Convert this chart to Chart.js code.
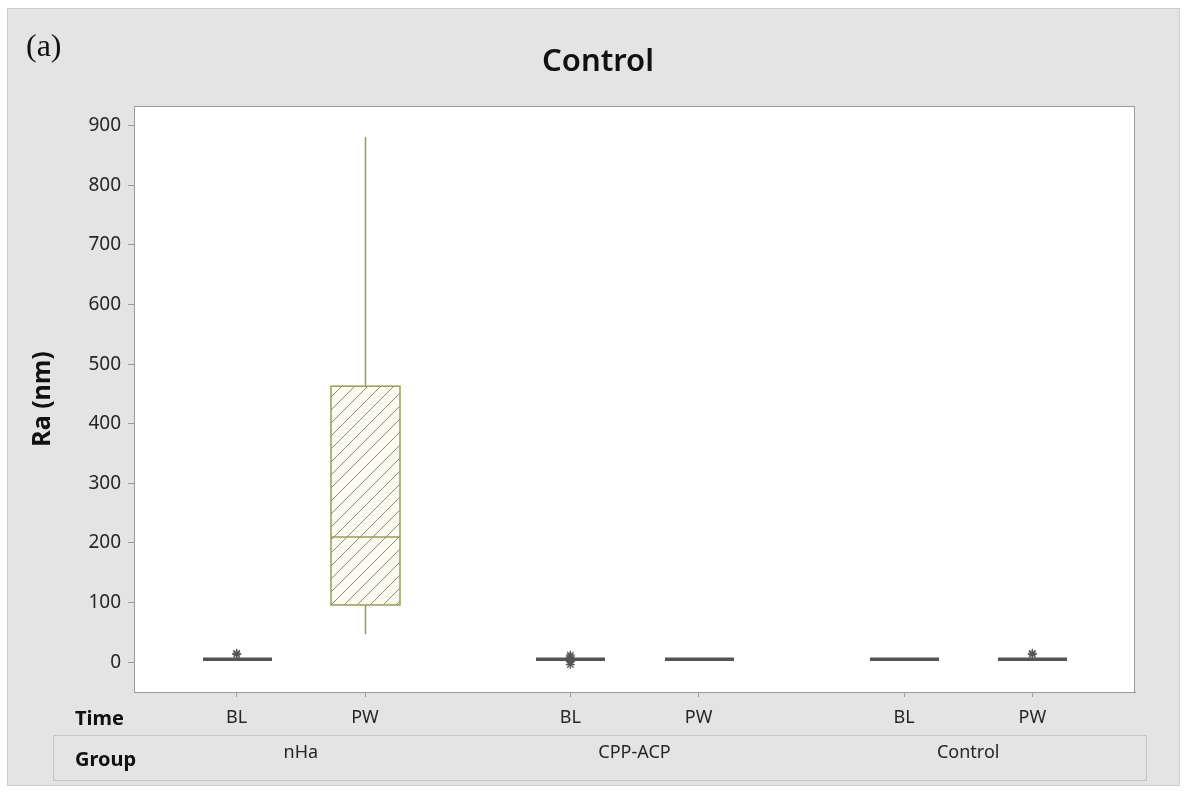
<!DOCTYPE html>
<html>
<head>
<meta charset="utf-8">
<script src="https://cdn.jsdelivr.net/npm/chart.js@4.4.1/dist/chart.umd.min.js"></script>
<style>
  html, body { margin: 0; padding: 0; background: #fff; }
  #wrap { width: 1186px; height: 794px; }
</style>
</head>
<body>
<div id="wrap"><canvas id="boxChart" width="1186" height="794"></canvas></div>
<script>
const groups = ['nHa', 'CPP-ACP', 'Control'];
const times = ['BL', 'PW'];

// one entry per box: nHa BL, nHa PW, CPP-ACP BL, CPP-ACP PW, Control BL, Control PW
const whiskerLow = [3, 47, 2, 3, 3, 3];
const q1 = [4, 96, 4, 4, 4, 4];
const median = [5, 210, 5, 5, 5, 5];
const q3 = [6, 463, 6, 6, 6, 6];
const whiskerHigh = [8, 881, 8, 7, 7, 8];
const outliers = [[13, 15], [], [12, 9, 4, 1, -4], [], [], [13, 15]];

const yTickValues = [0, 100, 200, 300, 400, 500, 600, 700, 800, 900];

const FONT = "'Noto Sans', 'DejaVu Sans', sans-serif";
const boxColors = ['#555555', '#9b9a55', '#555555', '#555555', '#555555', '#555555'];

// x position of each box on the linear axis (groups spaced wider than times)
const xPos = [];
groups.forEach((g, gi) => times.forEach((t, ti) => xPos.push(1 + gi * 2.6 + ti)));

const outlierPoints = [];
outliers.forEach((list, i) => list.forEach(v => outlierPoints.push({ x: xPos[i], y: v })));

// hatch pattern for the filled box
function makeHatch() {
  const c = document.createElement('canvas');
  c.width = 13; c.height = 13;
  const cx = c.getContext('2d');
  cx.fillStyle = '#fbfbf1';
  cx.fillRect(0, 0, 13, 13);
  cx.strokeStyle = '#8d8c6c';
  cx.lineWidth = 1;
  cx.beginPath();
  cx.moveTo(-1, 14); cx.lineTo(14, -1);
  cx.moveTo(-1, 1); cx.lineTo(1, -1);
  cx.moveTo(12, 14); cx.lineTo(14, 12);
  cx.stroke();
  return cx.createPattern(c, 'repeat');
}

const backdrop = {
  id: 'backdrop',
  beforeDraw(chart) {
    const { ctx, chartArea: a } = chart;
    ctx.save();
    ctx.fillStyle = '#ffffff';
    ctx.fillRect(0, 0, chart.width, chart.height);
    ctx.fillStyle = '#e4e4e4';
    ctx.fillRect(7, 8, 1173, 778);
    ctx.strokeStyle = '#cdcdcd';
    ctx.lineWidth = 1;
    ctx.strokeRect(7.5, 8.5, 1172, 777);
    ctx.fillStyle = '#ffffff';
    ctx.fillRect(a.left, a.top, a.right - a.left, a.bottom - a.top);
    ctx.restore();
  },
  afterDraw(chart) {
    const { ctx, chartArea: a, scales: { x } } = chart;
    ctx.save();
    ctx.strokeStyle = '#9c9c9c';
    ctx.lineWidth = 1;
    ctx.strokeRect(a.left + 0.5, a.top + 0.5, a.right - a.left - 1, a.bottom - a.top);

    // group box under the time labels
    ctx.strokeStyle = '#c4c4c4';
    ctx.strokeRect(53.5, 735.5, 1093, 45);

    ctx.fillStyle = '#111';
    ctx.textBaseline = 'middle';
    ctx.textAlign = 'left';
    ctx.font = 'bold 20px ' + FONT;
    ctx.fillText('Time', 75, 719);
    ctx.fillText('Group', 75, 760);

    ctx.font = '18px ' + FONT;
    ctx.fillStyle = '#262626';
    ctx.textAlign = 'center';
    groups.forEach((g, gi) => {
      const cx = (x.getPixelForValue(xPos[gi * 2]) + x.getPixelForValue(xPos[gi * 2 + 1])) / 2;
      ctx.fillText(g, cx, 753);
    });

    ctx.fillStyle = '#111';
    ctx.font = '600 31px ' + FONT;
    ctx.fillText('Control', 598, 62);

    ctx.textAlign = 'left';
    ctx.font = '32px "Liberation Serif", serif';
    ctx.fillText('(a)', 26, 48);
    ctx.restore();
  }
};

const hatch = makeHatch();

const boxes = {
  id: 'boxes',
  beforeDatasetsDraw(chart) {
    const { ctx, scales: { x, y } } = chart;
    const halfW = 34.5;
    ctx.save();
    xPos.forEach((xv, i) => {
      const px = Math.round(x.getPixelForValue(xv)) + 0.5;
      const col = boxColors[i];
      const yTop = y.getPixelForValue(q3[i]);
      const yBot = y.getPixelForValue(q1[i]);
      ctx.strokeStyle = col;
      ctx.lineWidth = 1.5;
      // whiskers
      ctx.beginPath();
      ctx.moveTo(px, y.getPixelForValue(whiskerHigh[i]));
      ctx.lineTo(px, yTop);
      ctx.moveTo(px, yBot);
      ctx.lineTo(px, y.getPixelForValue(whiskerLow[i]));
      ctx.stroke();
      // box
      if (yBot - yTop > 4) {
        ctx.fillStyle = hatch;
        ctx.fillRect(px - halfW, yTop, halfW * 2, yBot - yTop);
        ctx.strokeRect(px - halfW, yTop, halfW * 2, yBot - yTop);
      } else {
        ctx.lineWidth = 3.5;
        ctx.beginPath();
        ctx.moveTo(px - halfW, y.getPixelForValue(median[i]));
        ctx.lineTo(px + halfW, y.getPixelForValue(median[i]));
        ctx.stroke();
      }
      // median
      ctx.lineWidth = 1.5;
      ctx.beginPath();
      ctx.moveTo(px - halfW, y.getPixelForValue(median[i]));
      ctx.lineTo(px + halfW, y.getPixelForValue(median[i]));
      ctx.stroke();
    });
    ctx.restore();
  }
};

new Chart(document.getElementById('boxChart'), {
  type: 'scatter',
  data: {
    datasets: [
      {
        label: 'Outliers',
        data: outlierPoints,
        pointStyle: 'star',
        radius: 4.5,
        borderColor: '#555',
        backgroundColor: '#555',
        borderWidth: 1.2,
      },
    ],
  },
  options: {
    responsive: false,
    animation: false,
    events: [],
    layout: { padding: { left: 0, right: 51, top: 106, bottom: 0 } },
    plugins: {
      legend: { display: false },
      title: { display: false },
      tooltip: { enabled: false },
    },
    scales: {
      x: {
        type: 'linear',
        min: 0.2,
        max: 8.0,
        afterFit: (s) => { s.height = 102; },
        afterBuildTicks: (s) => { s.ticks = xPos.map(v => ({ value: v })); },
        grid: { drawOnChartArea: false, drawTicks: true, tickLength: 5, color: '#9c9c9c' },
        border: { color: '#9c9c9c' },
        ticks: {
          autoSkip: false,
          maxRotation: 0,
          padding: 10,
          color: '#262626',
          font: { family: FONT, size: 18 },
          callback: (v, i) => times[i % 2],
        },
      },
      y: {
        min: -50,
        max: 933,
        afterFit: (s) => { s.width = 134; },
        afterBuildTicks: (s) => { s.ticks = yTickValues.map(v => ({ value: v })); },
        grid: { drawOnChartArea: false, drawTicks: true, tickLength: 6, color: '#9c9c9c' },
        border: { color: '#9c9c9c' },
        ticks: {
          padding: 7,
          color: '#262626',
          font: { family: FONT, size: 19 },
        },
        title: {
          display: true,
          text: 'Ra (nm)',
          color: '#111',
          font: { family: FONT, size: 25, weight: 'bold' },
          padding: { top: 28 },
        },
      },
    },
  },
  plugins: [backdrop, boxes],
});
</script>
</body>
</html>
